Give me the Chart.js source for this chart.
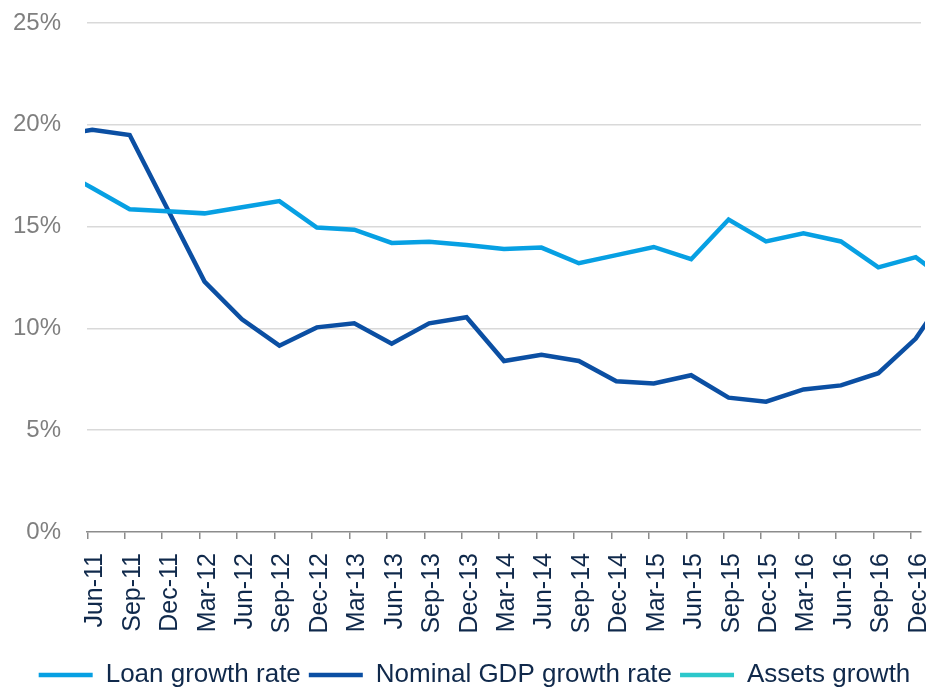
<!DOCTYPE html>
<html>
<head>
<meta charset="utf-8">
<script src="https://cdn.jsdelivr.net/npm/chart.js@4"></script>
<style>
html,body{margin:0;padding:0;overflow:hidden;background:#ffffff}
#wrap{width:931px;height:700px;position:relative}
</style>
</head>
<body>
<div id="wrap"><canvas id="c"></canvas></div>
<script>
// Quarters (first and last are only partly visible at the plot edges)
const quarters = ['Mar-11','Jun-11','Sep-11','Dec-11','Mar-12','Jun-12','Sep-12','Dec-12',
  'Mar-13','Jun-13','Sep-13','Dec-13','Mar-14','Jun-14','Sep-14','Dec-14',
  'Mar-15','Jun-15','Sep-15','Dec-15','Mar-16','Jun-16','Sep-16','Dec-16','Mar-17'];

// Loan growth rate (%)
const loanGrowth = [17.9, 16.9, 15.85, 15.75, 15.65, 15.95, 16.25, 14.95,
  14.85, 14.2, 14.25, 14.1, 13.9, 13.97, 13.2, 13.6,
  14.0, 13.4, 15.35, 14.27, 14.67, 14.27, 13.0, 13.5, 12.1];

// Nominal GDP growth rate (%)
const gdpGrowth = [19.45, 19.75, 19.5, 15.9, 12.3, 10.45, 9.15, 10.05,
  10.25, 9.25, 10.25, 10.55, 8.4, 8.7, 8.4, 7.4,
  7.3, 7.7, 6.6, 6.4, 7.0, 7.2, 7.8, 9.5, 12.2];

// Assets growth (legend only, no visible line)
const assetsGrowth = [];

const yTickValues = [0, 5, 10, 15, 20, 25];
const shownQuarters = quarters.slice(1, 24); // Jun-11 .. Dec-16

const toPoints = arr => arr.map((v, i) => ({ x: i - 1, y: v }));

Chart.defaults.font.family = "'Liberation Sans', Arial, Helvetica, sans-serif";

const navy = '#10294b';
const clipOpt = { left: 2, right: 4, top: false, bottom: false };

// shift the centred legend slightly to the right, like the reference
const legendShift = {
  id: 'legendShift',
  afterLayout(chart) {
    const l = chart.legend;
    if (l) { l.left += 14; l.right += 14; }
  }
};

new Chart(document.getElementById('c'), {
  type: 'line',
  plugins: [legendShift],
  data: {
    datasets: [
      { label: 'Loan growth rate', data: toPoints(loanGrowth), borderColor: '#07a0e3', backgroundColor: '#07a0e3',
        borderWidth: 4.5, pointRadius: 0, tension: 0, clip: clipOpt, borderCapStyle: 'round' },
      { label: 'Nominal GDP growth rate', data: toPoints(gdpGrowth), borderColor: '#0b4fa3', backgroundColor: '#0b4fa3',
        borderWidth: 4.5, pointRadius: 0, tension: 0, clip: clipOpt, borderCapStyle: 'round' },
      { label: 'Assets growth', data: assetsGrowth, borderColor: '#2cc8cb', backgroundColor: '#2cc8cb',
        borderWidth: 4.5, pointRadius: 0, tension: 0, clip: clipOpt, borderCapStyle: 'round' }
    ]
  },
  options: {
    responsive: true,
    maintainAspectRatio: false,
    animation: false,
    layout: { padding: { left: 0, right: 10, top: 23, bottom: 2 } },
    plugins: {
      tooltip: { enabled: false },
      legend: {
        position: 'bottom',
        labels: {
          usePointStyle: true, pointStyle: 'line', pointStyleWidth: 54,
          color: navy, font: { size: 26 }, padding: 8
        }
      }
    },
    scales: {
      x: {
        type: 'linear', min: -0.14, max: 22.14,
        afterBuildTicks: s => { s.ticks = shownQuarters.map((q, i) => ({ value: i - 0.13 })); },
        afterFit: s => { s.height = 122; s.paddingLeft = 0; s.paddingRight = 0; },
        ticks: {
          autoSkip: false, minRotation: 90, maxRotation: 90, labelOffset: 8, padding: 14,
          color: navy, font: { size: 25 },
          callback: v => shownQuarters[Math.round(v)]
        },
        grid: { drawOnChartArea: false, drawTicks: true, tickLength: 7, color: '#8c8c8c', lineWidth: 1.5 },
        border: { display: true, color: '#8c8c8c', width: 1.5 }
      },
      y: {
        min: 0, max: 25,
        afterBuildTicks: s => { s.ticks = yTickValues.map(v => ({ value: v })); },
        afterFit: s => { s.width = 87; s.paddingTop = 0; s.paddingBottom = 0; },
        ticks: { color: '#7f7f7f', font: { size: 24 }, padding: 26, callback: v => v + '%' },
        grid: { color: c => (c.tick && c.tick.value === 0) ? 'rgba(0,0,0,0)' : '#d9d9d9', lineWidth: 1.5, drawTicks: false },
        border: { display: false }
      }
    }
  }
});
</script>
</body>
</html>
